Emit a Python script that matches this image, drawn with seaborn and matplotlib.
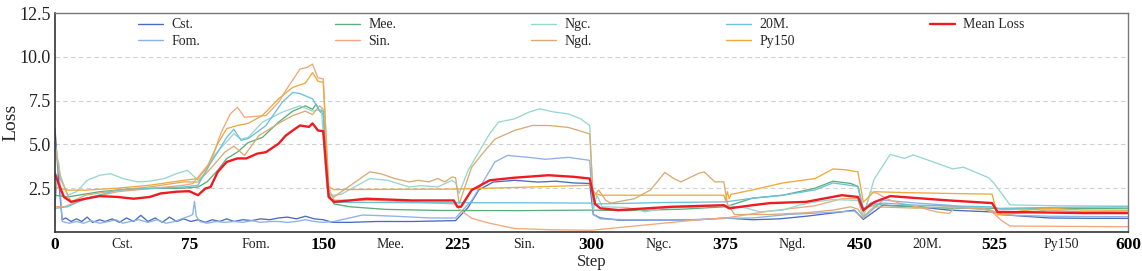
import numpy as np
import pandas as pd
import matplotlib
matplotlib.use("Agg")
import matplotlib.pyplot as plt
import seaborn as sns

# ---------------- data: (step, loss) pairs ----------------
series_names = ["Cst.", "Fom.", "Mee.", "Sin.", "Ngc.", "Ngd.", "20M.", "Py150"]
phase_labels = ["Cst.", "Fom.", "Mee.", "Sin.", "Ngc.", "Ngd.", "20M.", "Py150"]
major_ticks = [0, 75, 150, 225, 300, 375, 450, 525, 600]
y_ticks = [2.5, 5.0, 7.5, 10.0, 12.5]

cst = [(0, 5.9), (2, 3.0), (4, 0.7), (6, 0.8), (9, 0.6), (12, 0.75), (15, 0.6), (18, 0.85), (21, 0.55),
       (25, 0.7), (28, 0.6), (32, 0.75), (36, 0.55), (40, 0.8), (44, 0.6), (48, 0.95), (52, 0.6),
       (56, 0.8), (60, 0.55), (64, 0.85), (68, 0.6), (72, 0.75), (76, 0.6), (80, 0.7), (84, 0.55),
       (88, 0.7), (92, 0.6), (96, 0.75), (100, 0.6), (105, 0.7), (110, 0.65), (115, 0.75), (120, 0.7),
       (125, 0.8), (130, 0.85), (135, 0.75), (140, 0.9), (145, 0.75), (150, 0.7), (155, 0.55),
       (165, 0.55), (180, 0.6), (200, 0.6), (224, 0.65), (231, 1.4), (237, 2.4), (245, 2.85),
       (257, 2.95), (270, 2.85), (280, 2.9), (290, 2.8), (299, 2.77), (301, 1.0), (305, 0.8),
       (315, 0.68), (340, 0.68), (360, 0.7), (375, 0.8), (390, 0.7), (405, 0.75), (420, 0.9),
       (440, 1.15), (447, 1.25), (452, 0.72), (463, 1.53), (482, 1.44), (500, 1.25), (523, 1.15),
       (532, 0.97), (556, 0.8), (580, 0.78), (600, 0.78)]
fom = [(0, 1.5), (2, 4.0), (4, 0.6), (8, 0.5), (12, 0.6), (16, 0.5), (20, 0.65), (25, 0.5), (30, 0.6),
       (34, 0.7), (38, 0.5), (42, 0.6), (47, 0.7), (52, 0.55), (57, 0.7), (62, 0.5), (67, 0.6),
       (72, 0.8), (75, 0.9), (77, 1.0), (78, 1.75), (79, 0.9), (81, 0.6), (85, 0.5), (90, 0.6),
       (95, 0.55), (100, 0.6), (105, 0.55), (110, 0.65), (115, 0.55), (120, 0.6), (125, 0.6),
       (130, 0.55), (135, 0.6), (140, 0.7), (145, 0.6), (150, 0.55), (156, 0.6), (172, 0.97),
       (190, 0.9), (210, 0.8), (224, 0.8), (233, 1.8), (239, 2.8), (246, 4.0), (253, 4.37),
       (265, 4.26), (274, 4.15), (287, 4.26), (299, 4.09), (301, 1.0), (305, 0.75), (320, 0.7),
       (350, 0.68), (375, 0.78), (390, 0.8), (410, 1.0), (430, 1.1), (447, 1.2), (452, 0.8),
       (463, 1.82), (482, 1.65), (500, 1.53), (523, 1.25), (530, 0.97), (556, 0.9), (600, 0.87)]
mee = [(0, 2.1), (7, 2.0), (25, 2.3), (44, 2.48), (72, 2.5), (80, 2.57), (85, 2.86), (91, 3.52),
       (96, 4.19), (102, 4.56), (108, 5.1), (116, 5.4), (125, 6.27), (133, 6.9), (140, 7.2),
       (144, 7.0), (146, 7.3), (148, 6.9), (150, 6.7), (153, 2.2), (156, 1.6), (165, 1.44),
       (185, 1.29), (215, 1.23), (260, 1.22), (299, 1.25), (320, 1.22), (350, 1.3), (375, 1.44),
       (390, 1.93), (407, 2.1), (425, 2.5), (435, 2.9), (445, 2.77), (449, 2.6), (452, 1.15),
       (456, 1.65), (463, 1.53), (482, 1.44), (500, 1.36), (523, 1.36), (530, 1.31), (600, 1.36)]
sin = [(0, 1.45), (5, 1.44), (17, 1.9), (35, 2.3), (53, 2.48), (72, 2.67), (77, 2.76), (87, 4.0),
       (93, 5.7), (98, 6.74), (102, 7.12), (106, 6.55), (118, 6.65), (125, 7.4), (129, 8.07),
       (137, 9.3), (141, 9.4), (144, 9.58), (147, 8.8), (150, 8.75), (153, 2.5), (156, 1.82),
       (180, 1.8), (224, 1.6), (226, 1.3), (233, 0.78), (243, 0.5), (257, 0.2), (276, 0.13),
       (300, 0.1), (330, 0.4), (360, 0.7), (375, 0.8), (400, 1.2), (425, 1.5), (440, 1.9),
       (449, 1.9), (452, 0.8), (456, 2.3), (460, 2.2), (465, 1.9), (472, 1.65), (482, 1.44),
       (493, 1.15), (500, 1.06), (504, 1.44), (519, 1.36), (525, 1.06), (529, 0.68), (534, 0.34),
       (600, 0.3)]
ngc = [(0, 5.1), (3, 3.24), (7, 2.1), (12, 2.3), (18, 2.95), (25, 3.24), (31, 3.33), (38, 3.05),
       (46, 2.86), (53, 2.9), (61, 3.05), (68, 3.33), (74, 3.52), (77, 3.24), (80, 2.95), (84, 3.33),
       (89, 4.37), (95, 5.04), (100, 5.6), (104, 5.3), (108, 5.4), (116, 6.27), (127, 6.84),
       (137, 7.2), (144, 6.9), (149, 7.0), (152, 2.5), (155, 2.1), (160, 2.15), (176, 3.05),
       (186, 2.95), (198, 2.57), (205, 2.65), (214, 2.57), (222, 2.95), (224, 2.8), (226, 2.2),
       (231, 3.52), (237, 4.56), (243, 5.6), (248, 6.27), (257, 6.46), (265, 6.84), (271, 7.03),
       (279, 6.85), (287, 6.74), (294, 6.46), (299, 6.08), (301, 1.25), (303, 2.1), (306, 1.44),
       (320, 1.4), (330, 1.15), (340, 1.36), (360, 1.42), (375, 1.53), (387, 1.36), (394, 1.15),
       (407, 1.25), (416, 1.53), (425, 1.72), (435, 1.85), (449, 1.8), (452, 0.9), (458, 3.0),
       (467, 4.43), (475, 4.2), (480, 4.4), (491, 4.0), (502, 3.6), (508, 3.7), (522, 3.1),
       (525, 2.8), (534, 1.55), (560, 1.5), (600, 1.48)]
ngd = [(0, 5.0), (3, 3.05), (9, 1.72), (17, 2.1), (35, 2.39), (53, 2.57), (72, 2.86), (80, 2.85),
       (87, 3.62), (95, 4.56), (100, 4.9), (106, 4.37), (114, 5.5), (125, 6.2), (133, 6.65),
       (140, 6.9), (144, 6.7), (148, 7.2), (150, 7.0), (153, 2.2), (156, 2.0), (164, 2.57),
       (176, 3.43), (182, 3.33), (190, 3.05), (198, 2.86), (203, 2.95), (209, 2.86), (214, 3.05),
       (218, 2.86), (222, 3.14), (224, 3.1), (226, 1.6), (233, 3.7), (239, 4.47), (246, 5.3),
       (257, 5.8), (267, 6.08), (276, 6.08), (287, 5.97), (299, 5.6), (301, 2.0), (304, 2.4),
       (308, 1.8), (311, 1.65), (324, 1.9), (333, 2.4), (341, 3.4), (346, 3.05), (350, 2.86),
       (360, 3.35), (363, 3.43), (369, 2.86), (374, 2.86), (376, 1.6), (380, 1.0), (400, 1.0),
       (420, 1.1), (435, 1.25), (445, 1.44), (449, 1.3), (452, 0.87), (458, 1.44), (482, 1.36),
       (500, 1.44), (523, 1.25), (529, 0.97), (555, 1.25), (575, 1.15), (600, 1.2)]
m20 = [(0, 1.35), (7, 1.44), (17, 1.9), (35, 2.39), (53, 2.48), (72, 2.57), (80, 2.67), (85, 3.62),
       (91, 4.56), (96, 5.4), (100, 5.87), (104, 5.23), (108, 5.33), (118, 6.08), (127, 7.4),
       (133, 7.97), (137, 7.9), (144, 7.6), (148, 6.9), (150, 6.9), (153, 2.0), (156, 1.7),
       (200, 1.67), (260, 1.67), (299, 1.65), (302, 1.6), (340, 1.68), (375, 1.72), (390, 1.93),
       (407, 2.1), (425, 2.4), (435, 2.8), (449, 2.6), (452, 1.36), (463, 1.65), (482, 1.53),
       (523, 1.44), (528, 1.35), (556, 1.4), (600, 1.44)]
py150 = [(0, 2.57), (7, 2.39), (17, 2.39), (35, 2.5), (53, 2.67), (72, 2.95), (80, 3.05), (85, 3.7),
         (91, 5.04), (96, 5.9), (102, 6.08), (108, 6.2), (116, 6.65), (125, 7.6), (133, 8.26),
         (140, 8.5), (144, 9.1), (147, 8.6), (150, 8.55), (153, 2.6), (156, 2.42), (225, 2.45),
         (260, 2.55), (299, 2.67), (302, 2.2), (305, 2.1), (340, 2.1), (374, 2.1), (375, 1.8),
         (376, 2.3), (377, 1.9), (378, 2.15), (390, 2.4), (407, 2.8), (425, 3.05), (435, 3.6),
         (442, 3.55), (449, 3.43), (452, 1.7), (458, 2.3), (475, 2.25), (500, 2.2), (524, 2.16),
         (527, 0.97), (540, 1.2), (555, 1.36), (575, 1.25), (600, 1.25)]
mean_loss = [(0, 3.33), (2, 2.76), (5, 2.0), (9, 1.72), (17, 1.9), (25, 2.05), (35, 2.0), (44, 1.9),
             (53, 2.0), (59, 2.2), (68, 2.3), (75, 2.33), (80, 2.1), (84, 2.48), (87, 2.57),
             (91, 3.43), (96, 4.0), (102, 4.2), (107, 4.2), (113, 4.47), (118, 4.56), (125, 5.04),
             (129, 5.5), (133, 5.8), (137, 6.08), (142, 6.0), (144, 6.2), (147, 5.8), (150, 5.75),
             (153, 2.0), (156, 1.72), (165, 1.8), (174, 1.9), (200, 1.8), (223, 1.8), (225, 1.44),
             (227, 1.44), (233, 2.39), (243, 2.95), (257, 3.1), (276, 3.24), (290, 3.15), (299, 3.05),
             (302, 1.6), (305, 1.35), (315, 1.25), (345, 1.44), (374, 1.53), (377, 1.35), (390, 1.53),
             (400, 1.65), (420, 1.72), (440, 2.1), (449, 2.0), (452, 1.25), (458, 1.7), (467, 2.05),
             (480, 1.95), (500, 1.8), (524, 1.65), (527, 1.15), (550, 1.12), (575, 1.08), (600, 1.08)]

series_data = [cst, fom, mee, sin, ngc, ngd, m20, py150]
colors = ["#4a6cc0", "#8db2e6", "#5cae7a", "#f4a77c", "#96d8cd", "#d9ac74", "#6cc0dc", "#eeaa3c"]
mean_color = "#ee1c22"

# ---------------- build frame ----------------
rows = []
for name, pts in zip(series_names, series_data):
    for s, v in pts:
        rows.append({"Step": s, "Loss": v, "series": name})
df = pd.DataFrame(rows)
df_mean = pd.DataFrame(mean_loss, columns=["Step", "Loss"])

sns.set_style("white")
plt.rcParams["font.family"] = ["Liberation Serif", "DejaVu Serif"]

fig = plt.figure(figsize=(11.42, 2.71), dpi=100)
ax = fig.add_axes([55 / 1142, 1 - 232 / 271, (1128 - 55) / 1142, (232 - 13) / 271])

sns.lineplot(data=df, x="Step", y="Loss", hue="series", hue_order=series_names,
             palette=dict(zip(series_names, colors)), estimator=None, sort=False,
             linewidth=0.95, ax=ax, legend=True)
sns.lineplot(data=df_mean, x="Step", y="Loss", color=mean_color, linewidth=1.7,
             estimator=None, sort=False, ax=ax, label="Mean Loss")

ax.set_xlim(0, 600)
ax.set_ylim(0, 12.5)
ax.set_yticks(y_ticks)
ax.set_yticklabels([f"{t:.1f}" for t in y_ticks], fontsize=13, color="#222222")
ax.set_xticks(major_ticks)
ax.set_xticklabels([str(t) for t in major_ticks], fontsize=12.5, fontweight="bold", color="black")
mids = [(major_ticks[i] + major_ticks[i + 1]) / 2 for i in range(len(major_ticks) - 1)]
ax.set_xticks(mids, minor=True)
ax.set_xticklabels(phase_labels, minor=True, fontsize=10, color="#222222")
ax.tick_params(axis="x", which="major", length=2.5, width=0.8, pad=1, color="#555555")
ax.tick_params(axis="x", which="minor", length=0, pad=4)
ax.tick_params(axis="y", length=0, pad=3)

for yv in [2.5, 5.0, 7.5, 10.0]:
    ax.axhline(yv, color="#d0d0d0", linestyle=(0, (4, 3)), linewidth=0.8, zorder=0)

for side in ["left", "bottom"]:
    ax.spines[side].set_color("#333333")
    ax.spines[side].set_linewidth(1.2)
for side in ["top", "right"]:
    ax.spines[side].set_color("#777777")
    ax.spines[side].set_linewidth(1.0)

ax.set_xlabel("Step", fontsize=12)
ax.xaxis.set_label_coords(0.5, -0.1)
ax.set_ylabel("Loss", fontsize=14, labelpad=0)

handles, labels = ax.get_legend_handles_labels()
order = series_names + ["Mean Loss"]
hmap = dict(zip(labels, handles))
leg = ax.legend([hmap[l] for l in order], order, ncol=5, loc="upper left",
                bbox_to_anchor=(0.0775, 0.975), frameon=False, fontsize=10,
                handlelength=1.8, handletextpad=0.6, columnspacing=9.7,
                labelspacing=0.22, borderpad=0, borderaxespad=0)
for h, l in zip(leg.get_lines(), order):
    h.set_linewidth(1.7 if l == "Mean Loss" else 1.0)

fig.savefig("out.png", dpi=100)
